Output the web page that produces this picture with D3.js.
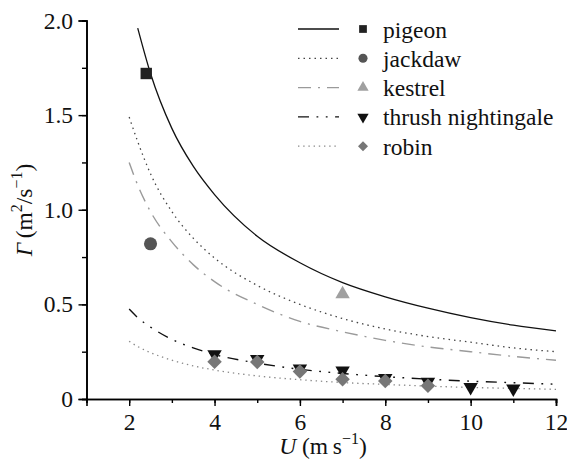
<!DOCTYPE html>
<html>
<head>
<meta charset="utf-8">
<script src="https://cdn.jsdelivr.net/npm/d3@7"></script>
</head>
<body style="margin:0;background:#fff">
<div id="chart"></div>
<script>
// curve samples
var curveU = [2, 2.2, 2.5, 3, 3.5, 4, 5, 6, 7, 8, 9, 10, 11, 12];
var pigeonCurve   = [null, 1.96, 1.72, 1.43, 1.23, 1.08, 0.86, 0.72, 0.615, 0.54, 0.48, 0.43, 0.39, 0.36];
var jackdawCurve  = [1.49, 1.36, 1.19, 0.99, 0.85, 0.745, 0.60, 0.50, 0.425, 0.37, 0.33, 0.30, 0.27, 0.25];
var kestrelCurve  = [1.25, 1.13, 0.99, 0.83, 0.71, 0.62, 0.50, 0.41, 0.355, 0.31, 0.275, 0.25, 0.225, 0.205];
var thrushCurve   = [0.475, 0.43, 0.38, 0.315, 0.27, 0.235, 0.19, 0.157, 0.135, 0.118, 0.105, 0.094, 0.086, 0.078];
var robinCurve    = [0.305, 0.277, 0.245, 0.205, 0.175, 0.153, 0.122, 0.102, 0.087, 0.077, 0.068, 0.061, 0.056, 0.051];

// measured points
var pigeonU = [2.4],  pigeonG = [1.72];
var jackdawU = [2.5], jackdawG = [0.82];
var kestrelU = [7],   kestrelG = [0.555];
var thrushU = [4, 5, 6, 7, 8, 9, 10, 11];
var thrushG = [0.235, 0.21, 0.16, 0.15, 0.11, 0.09, 0.062, 0.055];
var robinU = [4, 5, 6, 7, 8, 9];
var robinG = [0.197, 0.195, 0.145, 0.104, 0.095, 0.07];

var names = ["pigeon", "jackdaw", "kestrel", "thrush nightingale", "robin"];
var xTicks = [2, 4, 6, 8, 10, 12];
var yTicks = [0, 0.5, 1.0, 1.5, 2.0];

var W = 567, H = 459;
var FONT = "Liberation Serif";
var FS = 23.5;
var svg = d3.select("#chart").append("svg").attr("width", W).attr("height", H)
  .attr("font-family", FONT);

var x = d3.scaleLinear().domain([1, 12]).range([86.5, 556]);
var y = d3.scaleLinear().domain([0, 2]).range([399, 20.5]);

// axes
svg.append("g").attr("transform", "translate(0,399)")
  .call(d3.axisBottom(x).tickValues(d3.range(1, 13)).tickSize(4).tickFormat(""));
var gx = svg.append("g").attr("transform", "translate(0,399)")
  .call(d3.axisBottom(x).tickValues(xTicks).tickSize(7).tickFormat(d3.format("d")));
gx.selectAll(".tick text").attr("y", 31).attr("dy", 0);

svg.append("g").attr("transform", "translate(86.5,0)")
  .call(d3.axisLeft(y).tickValues(d3.range(0, 2.01, 0.25)).tickSize(4.5).tickFormat(""));
svg.append("g").attr("transform", "translate(86.5,0)")
  .call(d3.axisLeft(y).tickValues(yTicks).tickSize(8).tickPadding(5.5)
    .tickFormat(function(d){ return d === 0 ? "0" : d3.format(".1f")(d); }));

svg.selectAll("g").attr("font-family", FONT);
svg.selectAll(".domain").attr("stroke", "#000").attr("stroke-width", 1.6);
svg.selectAll(".tick line").attr("stroke", "#000").attr("stroke-width", 1.4);
svg.selectAll(".tick text").attr("font-family", FONT).attr("font-size", FS).attr("fill", "#111");

// line styles
var styles = [
  {stroke: "#111", width: 1.3, dash: null},
  {stroke: "#444", width: 1.3, dash: "1.5,4"},
  {stroke: "#9a9a9a", width: 1.4, dash: "13,7,2,7"},
  {stroke: "#111", width: 1.4, dash: "11,7.5,1.8,7.5,1.8,7.5"},
  {stroke: "#8a8a8a", width: 1.3, dash: "1.4,3.8"}
];
var curves = [pigeonCurve, jackdawCurve, kestrelCurve, thrushCurve, robinCurve];

var line = d3.line()
  .x(function(d){ return x(d[0]); })
  .y(function(d){ return y(d[1]); })
  .curve(d3.curveMonotoneX);

curves.forEach(function(c, i){
  var pts = curveU.map(function(u, j){ return [u, c[j]]; }).filter(function(d){ return d[1] != null; });
  svg.append("path").datum(pts)
    .attr("d", line)
    .attr("fill", "none")
    .attr("stroke", styles[i].stroke)
    .attr("stroke-width", styles[i].width)
    .attr("stroke-dasharray", styles[i].dash);
});

// markers
var markers = [
  {type: d3.symbolSquare, fill: "#222", size: 130, rot: 0, sizeL: 60},
  {type: d3.symbolCircle, fill: "#555", size: 135, rot: 0, sizeL: 65},
  {type: d3.symbolTriangle, fill: "#a0a0a0", size: 90, rot: 0, sizeL: 55},
  {type: d3.symbolTriangle, fill: "#111", size: 90, rot: 180, sizeL: 55},
  {type: d3.symbolSquare, fill: "#777", size: 105, rot: 45, sizeL: 50}
];
var pointSets = [
  [pigeonU, pigeonG], [jackdawU, jackdawG], [kestrelU, kestrelG], [thrushU, thrushG], [robinU, robinG]
];

pointSets.forEach(function(ps, i){
  var m = markers[i];
  var pts = ps[0].map(function(u, j){ return [u, ps[1][j]]; });
  svg.append("g").selectAll("path").data(pts).enter().append("path")
    .attr("d", d3.symbol().type(m.type).size(m.size))
    .attr("fill", m.fill)
    .attr("transform", function(d){
      return "translate(" + x(d[0]) + "," + y(d[1]) + ") rotate(" + m.rot + ")";
    });
});

// legend
var leg = svg.append("g").attr("font-family", FONT);
names.forEach(function(n, i){
  var ly = 29 + i * 29.3;
  leg.append("line").attr("x1", 298).attr("x2", 339).attr("y1", ly).attr("y2", ly)
    .attr("stroke", styles[i].stroke).attr("stroke-width", styles[i].width)
    .attr("stroke-dasharray", styles[i].dash);
  leg.append("path")
    .attr("d", d3.symbol().type(markers[i].type).size(markers[i].sizeL))
    .attr("fill", markers[i].fill)
    .attr("transform", "translate(363," + ly + ") rotate(" + markers[i].rot + ")");
  leg.append("text").attr("x", 383).attr("y", ly + 8.5)
    .attr("font-family", FONT).attr("font-size", FS).attr("fill", "#111").text(n);
});

// axis labels
var xl = svg.append("text").attr("x", 323).attr("y", 454)
  .attr("text-anchor", "middle").attr("font-family", FONT).attr("font-size", FS).attr("fill", "#111");
xl.append("tspan").attr("font-style", "italic").text("U");
xl.append("tspan").text(" (m\u2009s");
xl.append("tspan").attr("dy", -10).attr("font-size", 16).text("\u22121");
xl.append("tspan").attr("dy", 10).text(")");

var yl = svg.append("text").attr("transform", "translate(32,210) rotate(-90)")
  .attr("text-anchor", "middle").attr("font-family", FONT).attr("font-size", FS).attr("fill", "#111");
yl.append("tspan").attr("font-style", "italic").text("\u0393");
yl.append("tspan").text("\u2009(m");
yl.append("tspan").attr("dy", -10).attr("font-size", 16).text("2");
yl.append("tspan").attr("dy", 10).text("/s");
yl.append("tspan").attr("dy", -10).attr("font-size", 16).text("\u22121");
yl.append("tspan").attr("dy", 10).text(")");
</script>
</body>
</html>
